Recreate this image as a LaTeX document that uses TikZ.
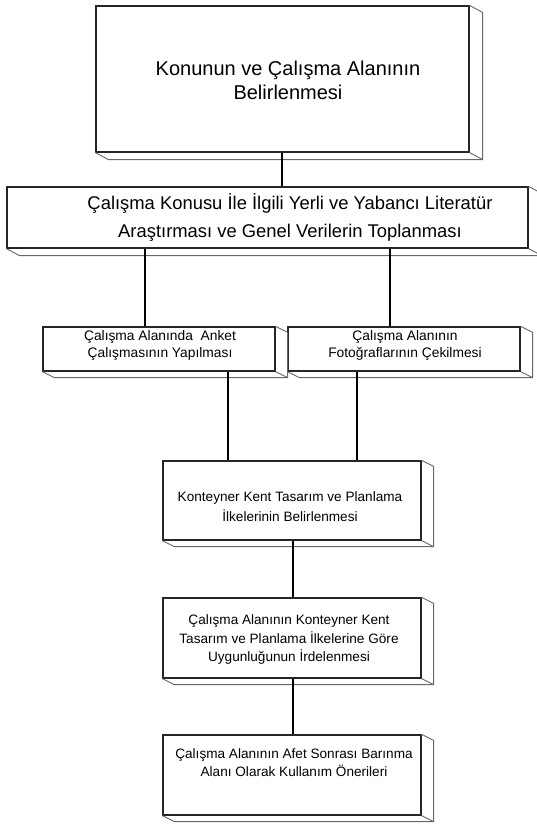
\documentclass[tikz,border=0pt]{standalone}
\usepackage{fontspec}
\setmainfont{Liberation Sans}
\usetikzlibrary{calc}
\tikzset{
  box/.style={draw=black!85, line width=1.2pt, fill=white, inner sep=0pt, rectangle},
  backedge/.style={draw=black!60, line width=0.9pt},
  txt/.style={align=center, inner sep=0pt, text=black},
  conn/.style={draw=black, line width=1.2pt},
}
\begin{document}
\begin{tikzpicture}[x=1pt,y=-1pt]
\useasboundingbox (0,0) rectangle (537,825);
% boxes (front faces)
\node[box, minimum width=373pt, minimum height=146pt] (b1) at (282.5,79) {};
\node[box, minimum width=521pt, minimum height=61pt] (b2) at (267.5,217.5) {};
\node[box, minimum width=232pt, minimum height=44pt] (b3) at (159,349) {};
\node[box, minimum width=232pt, minimum height=44pt] (b4) at (404,349) {};
\node[box, minimum width=258pt, minimum height=79pt] (b5) at (292,500.5) {};
\node[box, minimum width=258pt, minimum height=80pt] (b6) at (292,638) {};
\node[box, minimum width=258pt, minimum height=80pt] (b7) at (292,775) {};
% 3D depth faces
\foreach \n/\dx/\dy in {b1/13/7, b2/13/7, b3/12/6, b4/12/6, b5/12/6, b6/12/6, b7/12/6} {
  \draw[backedge] (\n.north east) -- ++(\dx,\dy) coordinate (\n ne)
     -- ($(\n.south east)+(\dx,\dy)$) coordinate (\n se)
     -- ($(\n.south west)+(\dx,\dy)$) -- (\n.south west);
  \draw[backedge] (\n.south east) -- (\n se);
}
% texts
\node[txt, font=\fontsize{20}{24}\selectfont] (t1) at (288,80) {Konunun ve Çalışma Alanının\\Belirlenmesi};
\node[txt, font=\fontsize{18.4}{28}\selectfont] (t2) at (290,217) {Çalışma Konusu İle İlgili Yerli ve Yabancı Literatür\\Araştırması ve Genel Verilerin Toplanması};
\node[txt, font=\fontsize{13.8}{17}\selectfont] (t3) at (160,345.5) {Çalışma Alanında\ \ Anket\\Çalışmasının Yapılması};
\node[txt, font=\fontsize{13.8}{17}\selectfont] (t4) at (405,345.5) {Çalışma Alanının\\Fotoğraflarının Çekilmesi};
\node[txt, font=\fontsize{13.6}{20}\selectfont] (t5) at (290,507) {Konteyner Kent Tasarım ve Planlama\\İlkelerinin Belirlenmesi};
\node[txt, font=\fontsize{13.6}{18.5}\selectfont] (t6) at (289,639.5) {Çalışma Alanının Konteyner Kent\\Tasarım ve Planlama İlkelerine Göre\\Uygunluğunun İrdelenmesi};
\node[txt, font=\fontsize{13.6}{18}\selectfont] (t7) at (294,763) {Çalışma Alanının Afet Sonrası Barınma\\Alanı Olarak Kullanım Önerileri};
% connectors
\draw[conn] ([xshift=-0.5pt]b1.south) -- ([xshift=-0.5pt]b1.south |- b2.north);
\draw[conn, line width=2pt] ([xshift=-14pt]b3.north) -- ([xshift=-14pt]b3.north |- b2.south);
\draw[conn] ([xshift=-14pt]b4.north) -- ([xshift=-14pt]b4.north |- b2.south);
\draw[conn] ([xshift=69pt]b3.south) -- ([xshift=69pt]b3.south |- b5.north);
\draw[conn] ([xshift=-47pt]b4.south) -- ([xshift=-47pt]b4.south |- b5.north);
\draw[conn] ([xshift=1pt]b5.south) -- ([xshift=1pt]b5.south |- b6.north);
\draw[conn] ([xshift=1pt]b6.south) -- ([xshift=1pt]b6.south |- b7.north);
\end{tikzpicture}
\end{document}
